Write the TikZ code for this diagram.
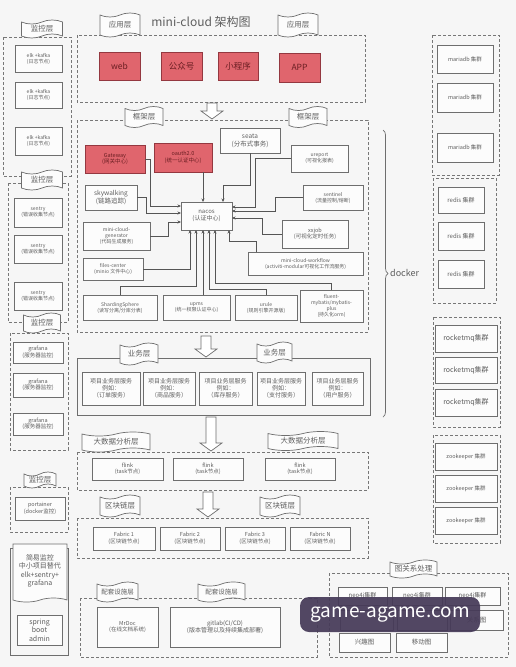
\documentclass[tikz,border=0pt]{standalone}
\usepackage{fontspec}
\setmainfont{Noto Sans CJK SC}
\usetikzlibrary{shapes.symbols,decorations.pathreplacing,arrows.meta}
\definecolor{bg}{HTML}{F6F6F6}
\definecolor{bxf}{HTML}{FCFCFC}
\definecolor{bd}{HTML}{6E6E6E}
\definecolor{dsh}{HTML}{777777}
\definecolor{tx}{HTML}{5E5E5E}
\definecolor{cn}{HTML}{555555}
\definecolor{redf}{HTML}{E0656D}
\definecolor{redd}{HTML}{943840}
\definecolor{redt}{HTML}{6A1E22}
\definecolor{wm}{HTML}{463A58}
\newcommand\bx[7][]{%
  \pgfmathsetmacro\bxW{#5-#3}%
  \pgfmathsetmacro\bxH{#6-#4}%
  \pgfmathsetmacro\bxX{(#3+#5)/2}%
  \pgfmathsetmacro\bxY{(#4+#6)/2}%
  \node[box,minimum width=\bxW pt,minimum height=\bxH pt,#1] (#2) at (\bxX,\bxY) {#7};}
\newcommand\harr[4]{% name, cx, y1, y2
  \coordinate (#1) at (#2,#3);
  \draw[harrow] ({#2-5},#3) -- ({#2+5},#3) -- ({#2+5},{#4-8}) -- ({#2+11},{#4-8}) -- (#2,#4) -- ({#2-11},{#4-8}) -- ({#2-5},{#4-8}) -- cycle;}
\begin{document}
\begin{tikzpicture}[x=1pt,y=-1pt,
  box/.style={draw=bd,fill=bxf,line width=0.7pt,text=tx,align=center,inner sep=0.5pt,outer sep=0pt,font=\fontsize{5}{6}\selectfont},
  redbox/.style={fill=redf,draw=redd,text=redt,font=\fontsize{8.5}{10}\selectfont},
  dbox/.style={draw=dsh,line width=0.7pt,dash pattern=on 3pt off 2pt},
  sbox/.style={draw=bd,line width=0.7pt},
  tab/.style={tape,draw=bd,fill=bxf,line width=0.7pt,text=tx,inner sep=0pt,tape bend height=4pt,font=\fontsize{7.5}{9}\selectfont},
  conn/.style={draw=cn,line width=0.6pt,-{Stealth[length=3.5pt,width=3pt]}},
  harrow/.style={draw=bd,fill=white,line width=0.7pt,line join=miter},
  f5/.style={font=\fontsize{5}{6}\selectfont},
  f55/.style={font=\fontsize{5.5}{6.6}\selectfont},
  f6/.style={font=\fontsize{6}{7.2}\selectfont},
  f65/.style={font=\fontsize{6.5}{7.8}\selectfont},
  f7/.style={font=\fontsize{7}{8.4}\selectfont},
  f8/.style={font=\fontsize{8}{9.6}\selectfont}]
\fill[bg] (0,0) rectangle (516,667);
\useasboundingbox (0,0) rectangle (516,667);

% ---------------- left column ----------------
\draw[dbox] (3,37) rectangle (71,176);
\draw[dbox] (8,183) rectangle (68,322);
\draw[dbox] (10,333) rectangle (68,450);
\draw[dbox] (10,487) rectangle (68,532);
\draw[sbox] (10,548) rectangle (68,655);
\node[tab,minimum width=41,minimum height=18] (tM1) at (42,29) {监控层};
\node[tab,minimum width=41,minimum height=20] (tM2) at (42,180) {监控层};
\node[tab,minimum width=37,minimum height=20] (tM3) at (42,323) {监控层};
\node[tab,minimum width=32,minimum height=16] (tM4) at (40,480) {监控层};
\bx[f5]{elk1}{15}{45}{62}{72}{elk +kafka\\(日志节点)}
\bx[f5]{elk2}{15}{82}{62}{108}{elk +kafka\\(日志节点)}
\bx[f5]{elk3}{15}{127}{62}{155}{elk +kafka\\(日志节点)}
\bx[f5]{sen1}{14}{198}{62}{227}{sentry\\(错误收集节点)}
\bx[f5]{sen2}{14}{235}{62}{263}{sentry\\(错误收集节点)}
\bx[f5]{sen3}{14}{282}{62}{310}{sentry\\(错误收集节点)}
\bx[f55]{gra1}{13}{342}{63}{363}{grafana\\(服务器监控)}
\bx[f55]{gra2}{13}{373}{63}{397}{grafana\\(服务器监控)}
\bx[f55]{gra3}{13}{413}{63}{435}{grafana\\(服务器监控)}
\bx[f55]{por}{15}{497}{65}{520}{portainer\\(docker监控)}
\node[tab,tape bend top=none,minimum width=54,minimum height=58,font=\fontsize{7}{8.6}\selectfont,align=center] (simple) at (40,571) {简易监控\\中小项目替代\\elk+sentry+\\grafana};
\bx[f7]{sba}{17}{615}{62}{645}{spring\\boot\\admin}

% ---------------- title & application layer ----------------
\node[text=tx,font=\fontsize{12}{14}\selectfont] (title) at (201,22) {mini-cloud 架构图};
\draw[dbox] (77,35) rectangle (365,102);
\node[tab,minimum width=40,minimum height=24] (tA1) at (120,25) {应用层};
\node[tab,minimum width=40,minimum height=24] (tA2) at (298,25) {应用层};
\bx[redbox]{web}{99}{52}{140}{80}{web}
\bx[redbox]{gzh}{161}{52}{202}{80}{公众号}
\bx[redbox]{xcx}{218}{52}{258}{80}{小程序}
\bx[redbox]{app}{279}{53}{320}{82}{APP}
\harr{a1}{212}{103}{119}

% ---------------- framework layer ----------------
\draw[dbox] (77,120) rectangle (368,332);
\node[tab,minimum width=38,minimum height=21] (tF1) at (144,117) {框架层};
\node[tab,minimum width=38,minimum height=21] (tF2) at (308,117) {框架层};
\bx[redbox,f55]{Gw}{85}{145}{145}{173}{Gateway\\(网关中心)}
\bx[redbox,f55]{oa}{154}{143}{212}{172}{oauth2.0\\(统一认证中心)}
\bx[f65]{seata}{220}{128}{280}{153}{seata\\(分布式事务)}
\bx[f5]{ur}{291}{145}{348}{172}{ureport\\(可视化报表)}
\bx[f65]{sky}{85}{185}{137}{210}{skywalking\\(链路追踪)}
\bx[f5]{sent}{303}{185}{363}{210}{sentinel\\(流量控制/熔断)}
\bx[f6]{nacos}{181}{202}{232}{230}{nacos\\(认证中心)}
\bx[f5]{gen}{83}{222}{150}{250}{mini-cloud-\\generator\\(代码生成服务)}
\bx[f55]{xx}{282}{220}{348}{248}{xxjob\\(可视化定时任务)}
\bx[f5]{fc}{83}{258}{143}{280}{files-center\\(minio 文件中心)}
\bx[f5]{wf}{248}{252}{363}{275}{mini-cloud-workflow\\(activiti-modular可视化工作流服务)}
\bx[f5]{ss}{83}{295}{157}{320}{ShardingSphere\\(读写分离/分库分表)}
\bx[f5]{upms}{163}{295}{230}{320}{upms\\(统一权限认证中心)}
\bx[f5]{urule}{235}{295}{297}{320}{urule\\(规则引擎开源版)}
\bx[f5]{fl}{300}{290}{363}{322}{fluent-\\mybatis/mybatis-\\plus\\(持久化orm)}
% connectors into nacos
\draw[conn] (Gw.east) -| (150,206) -- (nacos.west |- 0,206);
\draw[conn] (sky.east) -| (146,213) -- (nacos.west |- 0,213);
\draw[conn] (gen.east) -| (168,222) -- (nacos.west |- 0,222);
\draw[conn] (oa.south -| 203,0) -- (nacos.north -| 203,0);
\draw[conn] (seata.south) -- (250,185) -| (nacos.north -| 223,0);
\draw[conn] (ur.west) -| (255,207) -- (nacos.east |- 0,207);
\draw[conn] (sent.west) -| (275,211) -- (nacos.east |- 0,211);
\draw[conn] (xx.west) -| (262,218) -- (nacos.east |- 0,218);
\draw[conn] (wf.north -| 256,0) |- (229,241) -- (nacos.south -| 229,0);
\draw[conn] (fc.east) -| (nacos.south -| 190,0);
\draw[conn] (ss.north) |- (196,286) -- (nacos.south -| 196,0);
\draw[conn] (upms.north -| 203,0) -- (nacos.south -| 203,0);
\draw[conn] (urule.north) |- (209,289) -- (nacos.south -| 209,0);
\draw[conn] (fl.north) |- (215,283) -- (nacos.south -| 215,0);
\harr{a2}{206}{336}{357}

% ---------------- business layer ----------------
\draw[sbox] (77,358) rectangle (370,415);
\node[tab,minimum width=38,minimum height=22] (tB1) at (139,354) {业务层};
\node[tab,minimum width=35,minimum height=21] (tB2) at (274.5,352.5) {业务层};
\bx[f6]{b1}{82}{372}{140}{405}{项目业务层服务\\例如：\\（订单服务）}
\bx[f6]{b2}{143}{372}{195}{405}{项目业务层服务\\例如：\\（商品服务）}
\bx[f6]{b3}{199}{372}{252}{405}{项目业务层服务\\例如：\\（库存服务）}
\bx[f6]{b4}{257}{372}{305}{405}{项目业务层服务\\例如：\\（支付服务）}
\bx[f6]{b5}{312}{372}{363}{405}{项目业务层服务\\例如：\\（用户服务）}

% docker brace
\draw[draw=bd,line width=0.7pt,decorate,decoration={brace,amplitude=5pt}] (383,130) -- (383,417);
\node[anchor=west,text=tx,font=\fontsize{9}{10}\selectfont,inner sep=1pt] (dock) at (389,273) {docker};

% ---------------- big data layer ----------------
\harr{a3}{211}{417}{451}
\draw[dbox] (77,452) rectangle (368,490);
\node[tab,minimum width=68,minimum height=20] (tD1) at (116,442) {大数据分析层};
\node[tab,minimum width=70,minimum height=19] (tD2) at (303,441) {大数据分析层};
\bx[f55]{fk1}{92}{458}{163}{480}{flink\\(task节点)}
\bx[f55]{fk2}{173}{458}{243}{480}{flink\\(task节点)}
\bx[f55]{fk3}{265}{458}{335}{480}{flink\\(task节点)}

% ---------------- blockchain layer ----------------
\harr{a4}{208}{492}{517}
\draw[dbox] (77,518) rectangle (368,558);
\node[tab,minimum width=40,minimum height=22] (tC1) at (120,506) {区块链层};
\node[tab,minimum width=40,minimum height=22] (tC2) at (280,506) {区块链层};
\bx[f55]{fa1}{93}{527}{155}{550}{Fabric 1\\(区块链节点)}
\bx[f55]{fa2}{160}{527}{220}{550}{Fabric 2\\(区块链节点)}
\bx[f55]{fa3}{225}{527}{285}{550}{Fabric 3\\(区块链节点)}
\bx[f55]{fa4}{290}{527}{350}{550}{Fabric N\\(区块链节点)}

% ---------------- supporting facilities ----------------
\draw[dbox] (80,598) rectangle (317,657);
\node[tab,minimum width=41,minimum height=20,font=\fontsize{6.5}{8}\selectfont] (tS1) at (117.5,592) {配套设施层};
\node[tab,minimum width=47,minimum height=20,font=\fontsize{6.5}{8}\selectfont] (tS2) at (221.5,592) {配套设施层};
\bx[f55]{mrdoc}{97}{607}{158}{647}{MrDoc\\(在线文档系统)}
\bx[f6]{gitlab}{170}{607}{280}{647}{gitlab(CI/CD)\\(版本管理以及持续集成部署)}

% ---------------- graph processing ----------------
\draw[dbox] (329,573) rectangle (508,657);
\node[tab,minimum width=47,minimum height=18] (tG) at (413.5,569) {图关系处理};
\bx[f6]{neo1}{338}{587}{387}{605}{neo4j集群}
\bx[f6]{neo2}{392}{587}{442}{605}{neo4j集群}
\bx[f6]{neo3}{445}{587}{500}{605}{neo4j集群}
\bx[f65]{g1}{340}{610}{393}{630}{}
\bx[f65]{g2}{397}{610}{447}{630}{}
\bx[f65]{g3}{450}{610}{503}{630}{关系图}
\bx[f65]{g4}{339}{633}{390}{652}{兴趣图}
\bx[f65]{g5}{396}{633}{447}{652}{移动图}

% ---------------- right column ----------------
\draw[dbox] (432,35) rectangle (499,175);
\bx[f55]{m1}{437}{45}{493}{73}{mariadb 集群}
\bx[f55]{m2}{437}{83}{493}{112}{mariadb 集群}
\bx[f55]{m3}{437}{133}{493}{162}{mariadb 集群}
\draw[dbox] (433,178) rectangle (496,303);
\bx[f6]{r1}{438}{187}{484}{213}{redis 集群}
\bx[f6]{r2}{438}{222}{484}{250}{redis 集群}
\bx[f6]{r3}{438}{260}{484}{288}{redis 集群}
\draw[dbox] (433,317) rectangle (500,427);
\bx[f7]{q1}{435}{325}{497}{352}{rocketmq集群}
\bx[f7]{q2}{435}{357}{497}{383}{rocketmq集群}
\bx[f7]{q3}{435}{389}{497}{416}{rocketmq集群}
\draw[dbox] (433,435) rectangle (500,543);
\bx[f55]{z1}{435}{443}{497}{470}{zookeeper 集群}
\bx[f55]{z2}{435}{475}{497}{502}{zookeeper 集群}
\bx[f55]{z3}{435}{507}{497}{534}{zookeeper 集群}

% watermark banner
\node[fill=wm,fill opacity=0.93,text opacity=1,text=white,rounded corners=9pt,minimum width=180pt,minimum height=35pt,inner sep=0pt,font=\fontsize{19}{19}\selectfont] (wmk) at (390,614.5) {game-agame.com};
\end{tikzpicture}
\end{document}
